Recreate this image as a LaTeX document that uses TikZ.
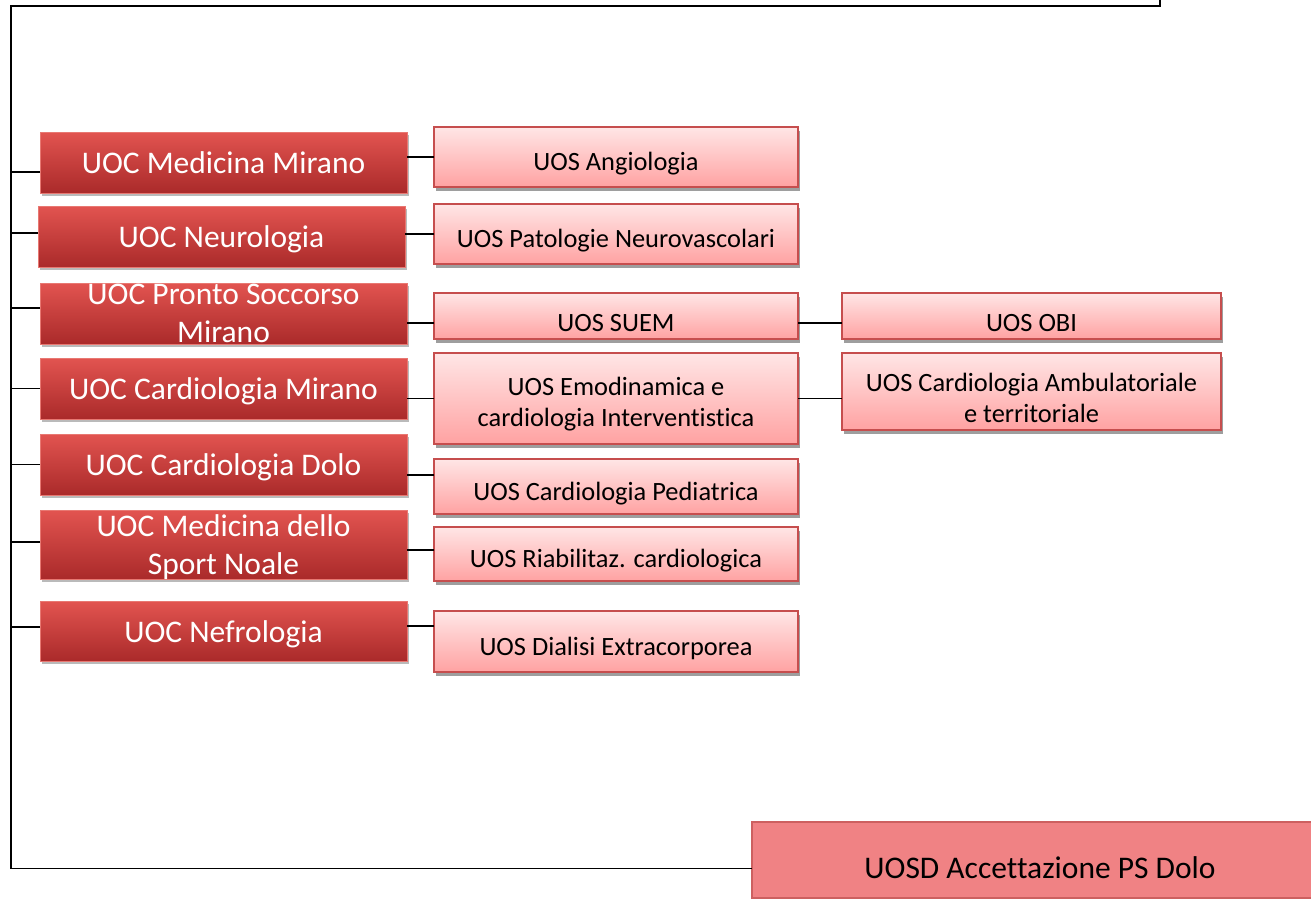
\documentclass[tikz,border=0pt]{standalone}
\usepackage{fontspec}
\setmainfont{Carlito}[Ligatures=NoCommon]
\usetikzlibrary{shadows}
\definecolor{uocTop}{RGB}{226,84,80}
\definecolor{uocBot}{RGB}{170,42,42}
\definecolor{uocEdge}{RGB}{232,120,114}
\definecolor{uosTop}{RGB}{255,230,230}
\definecolor{uosBot}{RGB}{255,162,162}
\definecolor{uosEdge}{RGB}{198,78,78}
\definecolor{uosdFill}{RGB}{240,130,132}
\definecolor{uosdEdge}{RGB}{205,96,96}
\begin{document}
\begin{tikzpicture}[x=1pt,y=-1pt,
  uocbox/.style={anchor=north west,inner sep=0pt,outer sep=0pt,minimum width=367pt,
    draw=uocEdge,line width=0.8pt,top color=uocTop,bottom color=uocBot,
    drop shadow={shadow xshift=2pt,shadow yshift=-3pt,fill=black!60,opacity=0.45}},
  uoctext/.style={text=white,align=center,inner sep=0pt,font=\fontsize{31.5}{38}\selectfont},
  uosbox/.style={anchor=north west,inner sep=0pt,outer sep=0pt,minimum width=364pt,
    draw=uosEdge,line width=1.3pt,top color=uosTop,bottom color=uosBot,
    drop shadow={shadow xshift=2pt,shadow yshift=-4pt,fill=black!38,opacity=1}},
  uostext/.style={align=center,inner sep=0pt,font=\fontsize{26.4}{31}\selectfont},
  link/.style={line width=1.9pt}]
  \useasboundingbox (0,0) rectangle (1311,898);
  \coordinate (topend) at (1160,0);
  \coordinate (trunk) at (11,6);

  \node[uocbox,minimum height=61pt] (medmir) at (40,132) {};
  \node[uoctext] (medmir-t) at (medmir.center) {UOC Medicina Mirano};
  \node[uocbox,minimum height=61pt] (neuro) at (38,206) {};
  \node[uoctext] (neuro-t) at ([yshift=-3pt]neuro.center) {UOC Neurologia};
  \node[uocbox,minimum height=61pt] (pronto) at (40,283) {};
  \node[uoctext] (pronto-t) at (pronto.center) {UOC Pronto Soccorso\\Mirano};
  \node[uocbox,minimum height=61pt] (cardmir) at (40,358) {};
  \node[uoctext] (cardmir-t) at ([yshift=-3pt]cardmir.center) {UOC Cardiologia Mirano};
  \node[uocbox,minimum height=61pt] (carddolo) at (40,434) {};
  \node[uoctext] (carddolo-t) at ([yshift=-3pt]carddolo.center) {UOC Cardiologia Dolo};
  \node[uocbox,minimum height=69pt] (sport) at (40,510) {};
  \node[uoctext] (sport-t) at ([yshift=-3pt]sport.center) {UOC Medicina dello\\Sport Noale};
  \node[uocbox,minimum height=60pt] (nefro) at (40,601) {};
  \node[uoctext] (nefro-t) at ([yshift=-3pt]nefro.center) {UOC Nefrologia};

  \node[uosbox,minimum height=60pt] (angio) at (434,127) {};
  \node[uostext] (angio-t) at ([yshift=-7pt]angio.center) {UOS Angiologia};
  \node[uosbox,minimum height=60pt] (patol) at (434,204) {};
  \node[uostext] (patol-t) at ([yshift=-7pt]patol.center) {UOS Patologie Neurovascolari};
  \node[uosbox,minimum height=46pt] (suem) at (434,293) {};
  \node[uostext] (suem-t) at ([yshift=-7pt]suem.center) {UOS SUEM};
  \node[uosbox,minimum height=91pt] (emod) at (434,353) {};
  \node[uostext] (emod-t) at ([yshift=-6pt]emod.center) {UOS Emodinamica e\\cardiologia Interventistica};
  \node[uosbox,minimum height=55pt] (pedia) at (434,459) {};
  \node[uostext] (pedia-t) at ([yshift=-7pt]pedia.center) {UOS Cardiologia Pediatrica};
  \node[uosbox,minimum height=54pt] (riab) at (434,527) {};
  \node[uostext] (riab-t) at ([yshift=-7pt]riab.center) {UOS Riabilitaz. cardiologica};
  \node[uosbox,minimum height=61pt] (dialisi) at (434,611) {};
  \node[uostext] (dialisi-t) at ([yshift=-7pt]dialisi.center) {UOS Dialisi Extracorporea};
  \node[uosbox,minimum width=379pt,minimum height=46pt] (obi) at (842,293) {};
  \node[uostext] (obi-t) at ([yshift=-7pt]obi.center) {UOS OBI};
  \node[uosbox,minimum width=379pt,minimum height=77pt] (ambul) at (842,353) {};
  \node[uostext] (ambul-t) at ([yshift=-6pt]ambul.center) {UOS Cardiologia Ambulatoriale\\e territoriale};

  \node[anchor=north west,inner sep=0pt,outer sep=0pt,minimum width=576pt,minimum height=76pt,
    draw=uosdEdge,line width=1.2pt,fill=uosdFill] (uosd) at (752,822) {};
  \node[inner sep=0pt,font=\fontsize{31.5}{37}\selectfont] (uosd-t) at ([yshift=-8pt]uosd.center) {UOSD Accettazione PS Dolo};

  \draw[link] (topend) |- (trunk) |- ([yshift=-8.5pt]uosd.west);
  \draw[link] ([yshift=-9.5pt]medmir.west) -- ([yshift=-9.5pt]medmir.west -| trunk);
  \draw[link] ([yshift=3.5pt]neuro.west) -- ([yshift=3.5pt]neuro.west -| trunk);
  \draw[link] ([yshift=5.5pt]pronto.west) -- ([yshift=5.5pt]pronto.west -| trunk);
  \draw[link] (cardmir.west) -- (cardmir.west -| trunk);
  \draw[link] (carddolo.west) -- (carddolo.west -| trunk);
  \draw[link] ([yshift=2.5pt]sport.west) -- ([yshift=2.5pt]sport.west -| trunk);
  \draw[link] ([yshift=4pt]nefro.west) -- ([yshift=4pt]nefro.west -| trunk);

  \draw[link] (angio.west) -- (angio.west -| medmir.east);
  \draw[link] (patol.west) -- (patol.west -| neuro.east);
  \draw[link] ([yshift=-7pt]suem.west) -- ([yshift=-7pt]suem.west -| pronto.east);
  \draw[link] (emod.west) -- (emod.west -| cardmir.east);
  \draw[link] ([yshift=11.5pt]pedia.west) -- ([yshift=11.5pt]pedia.west -| carddolo.east);
  \draw[link] ([yshift=4pt]riab.west) -- ([yshift=4pt]riab.west -| sport.east);
  \draw[link] ([yshift=15.5pt]dialisi.west) -- ([yshift=15.5pt]dialisi.west -| nefro.east);
  \draw[link] ([yshift=-7pt]suem.east) -- ([yshift=-7pt]suem.east -| obi.west);
  \draw[link] (emod.east) -- (emod.east -| ambul.west);
\end{tikzpicture}
\end{document}
